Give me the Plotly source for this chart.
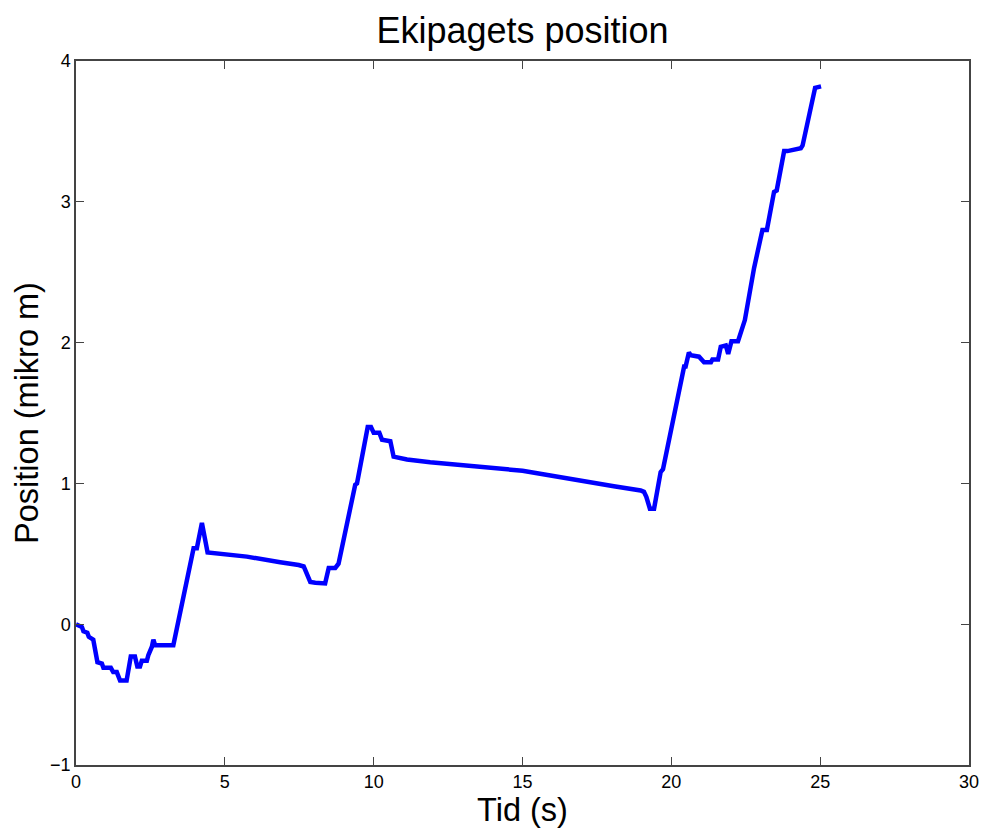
import plotly.graph_objects as go

# Time samples (s) and measured carriage position (micrometres)
tid = [0.00, 0.20, 0.25, 0.38, 0.43, 0.58, 0.72, 0.87, 0.92, 1.17, 1.25, 1.37,
       1.48, 1.70, 1.84, 1.98, 2.06, 2.15, 2.21, 2.38, 2.43, 2.55, 2.60, 2.66,
       3.27, 3.95, 4.06, 4.23, 4.42, 5.74, 6.86, 7.31, 7.48, 7.65, 7.76, 7.87,
       8.04, 8.37, 8.49, 8.71, 8.82, 9.38, 9.44, 9.80, 9.91, 10.00, 10.19,
       10.28, 10.56, 10.67, 11.12, 11.90, 15.00, 17.63, 18.07, 18.97, 19.08,
       19.16, 19.28, 19.42, 19.64, 19.72, 20.43, 20.48, 20.59, 20.65, 20.93,
       21.10, 21.33, 21.38, 21.57, 21.66, 21.83, 21.91, 22.02, 22.24, 22.47,
       22.78, 23.06, 23.21, 23.45, 23.54, 23.79, 23.90, 24.35, 24.41, 24.83,
       25.03]
position = [0.00, -0.02, -0.05, -0.06, -0.09, -0.11, -0.27, -0.28, -0.31, -0.31,
            -0.34, -0.34, -0.40, -0.40, -0.23, -0.23, -0.30, -0.30, -0.26, -0.26,
            -0.22, -0.16, -0.11, -0.15, -0.15, 0.54, 0.54, 0.72, 0.51, 0.48,
            0.44, 0.43, 0.42, 0.41, 0.35, 0.30, 0.295, 0.29, 0.40, 0.40, 0.43,
            0.99, 1.00, 1.40, 1.40, 1.36, 1.36, 1.31, 1.30, 1.19, 1.17, 1.15,
            1.09, 0.99, 0.98, 0.95, 0.94, 0.905, 0.82, 0.82, 1.08, 1.10, 1.83,
            1.83, 1.93, 1.91, 1.90, 1.86, 1.86, 1.88, 1.88, 1.97, 1.98, 1.92,
            2.01, 2.01, 2.16, 2.53, 2.80, 2.80, 3.07, 3.08, 3.36, 3.36, 3.38,
            3.40, 3.81, 3.82]

x_ticks = [0, 5, 10, 15, 20, 25, 30]
y_ticks = [-1, 0, 1, 2, 3, 4]

FONT = "Liberation Sans, Arial, Helvetica, sans-serif"

fig = go.Figure(
    go.Scatter(
        x=tid,
        y=position,
        mode="lines",
        line=dict(color="#0000ff", width=4.5),
        showlegend=False,
    )
)

axis_common = dict(
    showgrid=False,
    zeroline=False,
    showline=True,
    linecolor="#444444",
    linewidth=1.5,
    mirror="allticks",
    ticks="inside",
    ticklen=8,
    tickwidth=1,
    tickcolor="#444444",
    automargin=False,
    tickfont=dict(family=FONT, size=18, color="#000000"),
)

fig.update_layout(
    width=983,
    height=835,
    autosize=False,
    margin=dict(l=76, r=14, t=61, b=70, autoexpand=False),
    paper_bgcolor="white",
    plot_bgcolor="white",
    font=dict(family=FONT, color="#000000"),
    title=dict(
        text="Ekipagets position",
        x=0.5,
        xref="paper",
        y=1 - 30 / 835,
        yref="container",
        yanchor="middle",
        font=dict(family=FONT, size=36, color="#000000"),
    ),
    xaxis=dict(
        range=[0, 30],
        tickvals=x_ticks,
        title=dict(text="Tid (s)", font=dict(family=FONT, size=32.5), standoff=6),
        **axis_common,
    ),
    yaxis=dict(
        range=[-1, 4],
        tickvals=y_ticks,
        title=dict(text="Position (mikro m)", font=dict(family=FONT, size=32.5), standoff=2),
        **axis_common,
    ),
)

fig.write_html("out.html")
